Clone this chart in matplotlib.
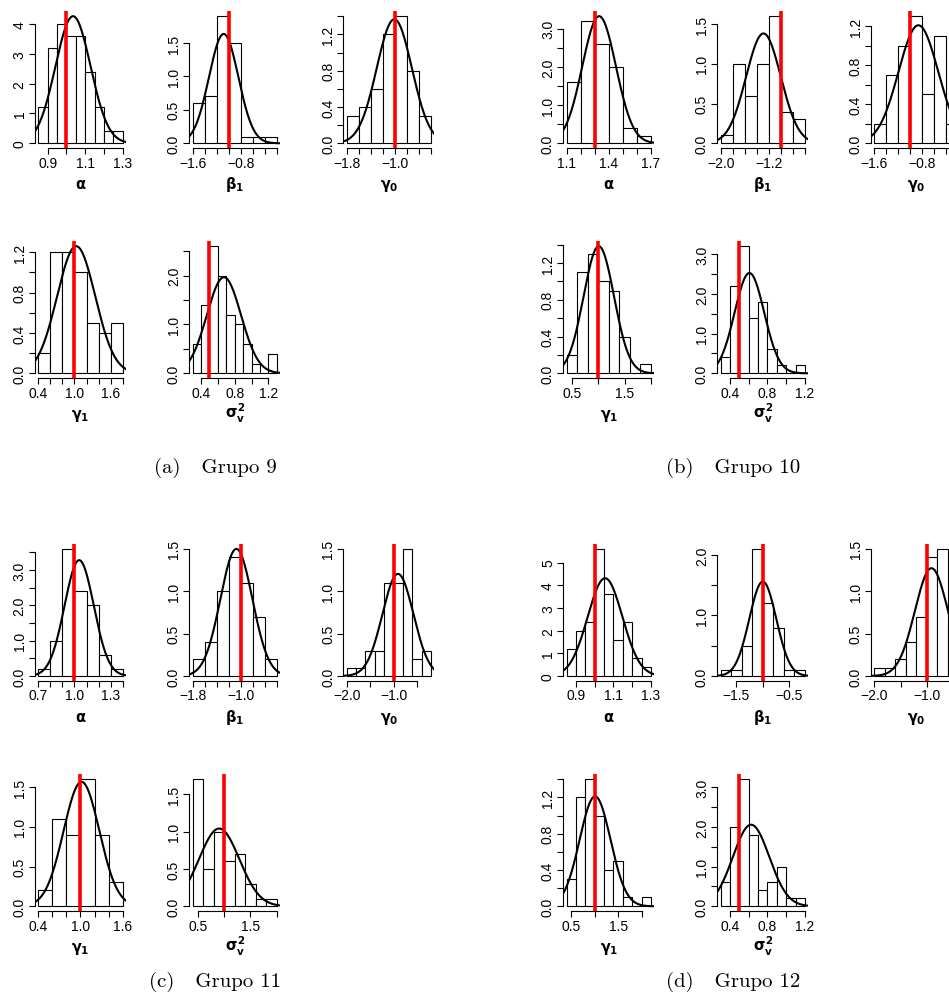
import numpy as np
import matplotlib
matplotlib.use('Agg')
import matplotlib.pyplot as plt

plt.rcParams['font.family'] = ['Liberation Sans', 'DejaVu Sans']
plt.rcParams['mathtext.fontset'] = 'custom'
plt.rcParams['mathtext.rm'] = 'DejaVu Sans:bold'
plt.rcParams['mathtext.it'] = 'DejaVu Sans:bold'
plt.rcParams['mathtext.bf'] = 'DejaVu Sans:bold'

M = '\u2212'

# ---------------- shared tick sets ----------------
yt_int4 = [0, 1, 2, 3, 4]
yl_int4 = ['0', '1', '2', '3', '4']
yt_int5 = [0, 1, 2, 3, 4, 5]
yl_int5 = ['0', '1', '2', '3', '4', '5']
yt_h15 = [0.0, 0.5, 1.0, 1.5]
yl_h15 = ['0.0', '0.5', '1.0', '1.5']
yt_h20 = [0.0, 0.5, 1.0, 1.5, 2.0]
yl_h20 = ['0.0', '', '1.0', '', '2.0']
yt_h25 = [0.0, 0.5, 1.0, 1.5, 2.0, 2.5]
yl_h25 = ['0.0', '', '1.0', '', '2.0', '']
yt_h30 = [0.0, 0.5, 1.0, 1.5, 2.0, 2.5, 3.0]
yl_h30 = ['0.0', '', '1.0', '', '2.0', '', '3.0']
yt_h35 = [0.0, 0.5, 1.0, 1.5, 2.0, 2.5, 3.0, 3.5]
yl_h35 = ['0.0', '', '1.0', '', '2.0', '', '3.0', '']
yt_f12 = [0.0, 0.2, 0.4, 0.6, 0.8, 1.0, 1.2]
yl_f12 = ['0.0', '', '0.4', '', '0.8', '', '1.2']
yt_f14 = [0.0, 0.2, 0.4, 0.6, 0.8, 1.0, 1.2, 1.4]
yl_f14 = ['0.0', '', '0.4', '', '0.8', '', '1.2', '']

xt_a09 = [0.9, 1.0, 1.1, 1.2, 1.3]
xl_a09 = ['0.9', '', '1.1', '', '1.3']
xt_s04 = [0.4, 0.6, 0.8, 1.0, 1.2]
xl_s04 = ['0.4', '', '0.8', '', '1.2']
xt_h05 = [0.5, 1.0, 1.5, 2.0]
xl_h05 = ['0.5', '', '1.5', '']
xt_n20h = [-2.0, -1.5, -1.0, -0.5]
xl_n20h = [M + '2.0', '', M + '1.0', '']

# ---------------- Grupo 9 ----------------
g9_alpha_edges = [0.85, 0.90, 0.95, 1.00, 1.05, 1.10, 1.15, 1.20, 1.25, 1.30]
g9_alpha_dens = [1.2, 3.2, 4.0, 3.6, 3.6, 2.4, 1.2, 0.4, 0.4]
g9_beta1_edges = [-1.6, -1.4, -1.2, -1.0, -0.8, -0.6, -0.4, -0.2]
g9_beta1_dens = [0.6, 0.7, 1.9, 1.5, 0.1, 0.1, 0.1]
g9_beta1_xt = [-1.6, -1.4, -1.2, -1.0, -0.8, -0.6, -0.4, -0.2]
g9_beta1_xl = [M + '1.6', '', '', '', M + '0.8', '', '', '']
g9_gamma0_edges = [-1.8, -1.6, -1.4, -1.2, -1.0, -0.8, -0.6, -0.4]
g9_gamma0_dens = [0.3, 0.4, 0.6, 1.2, 1.4, 0.8, 0.3]
g9_gamma0_xt = [-1.8, -1.6, -1.4, -1.2, -1.0, -0.8, -0.6, -0.4]
g9_gamma0_xl = [M + '1.8', '', '', '', M + '1.0', '', '', '']
g9_gamma1_edges = [0.4, 0.6, 0.8, 1.0, 1.2, 1.4, 1.6, 1.8]
g9_gamma1_dens = [0.2, 1.2, 1.2, 1.0, 0.5, 0.4, 0.5]
g9_gamma1_xt = [0.4, 0.6, 0.8, 1.0, 1.2, 1.4, 1.6, 1.8]
g9_gamma1_xl = ['0.4', '', '', '1.0', '', '', '1.6', '']
g9_sigma_edges = [0.3, 0.4, 0.5, 0.6, 0.7, 0.8, 0.9, 1.0, 1.1, 1.2, 1.3]
g9_sigma_dens = [0.6, 1.4, 2.6, 2.0, 1.2, 1.0, 0.6, 0.2, 0.0, 0.4]
g9_mean = [1.035, -1.083, -1.01, 1.028, 0.672]
g9_sd = [0.0937, 0.244, 0.292, 0.317, 0.203]
g9_true = [1.0, -1.0, -1.0, 1.0, 0.5]

# ---------------- Grupo 10 ----------------
g10_alpha_edges = [1.1, 1.2, 1.3, 1.4, 1.5, 1.6, 1.7]
g10_alpha_dens = [1.6, 3.2, 2.6, 2.0, 0.4, 0.2]
g10_alpha_xt = [1.1, 1.2, 1.3, 1.4, 1.5, 1.6, 1.7]
g10_alpha_xl = ['1.1', '', '', '1.4', '', '', '1.7']
g10_beta1_edges = [-2.0, -1.8, -1.6, -1.4, -1.2, -1.0, -0.8, -0.6]
g10_beta1_dens = [0.1, 1.0, 0.6, 1.0, 1.6, 0.4, 0.3]
g10_beta1_xt = [-2.0, -1.8, -1.6, -1.4, -1.2, -1.0, -0.8, -0.6]
g10_beta1_xl = [M + '2.0', '', '', '', M + '1.2', '', '', '']
g10_gamma0_edges = [-1.6, -1.4, -1.2, -1.0, -0.8, -0.6, -0.4, -0.2]
g10_gamma0_dens = [0.2, 0.7, 1.0, 1.3, 0.5, 1.1, 0.2]
g10_gamma0_xt = [-1.6, -1.4, -1.2, -1.0, -0.8, -0.6, -0.4, -0.2]
g10_gamma0_xl = [M + '1.6', '', '', '', M + '0.8', '', '', '']
g10_gamma1_edges = [0.4, 0.6, 0.8, 1.0, 1.2, 1.4, 1.6, 1.8, 2.0]
g10_gamma1_dens = [0.2, 1.1, 1.3, 1.0, 0.9, 0.4, 0.0, 0.1]
g10_sigma_edges = [0.3, 0.4, 0.5, 0.6, 0.7, 0.8, 0.9, 1.0, 1.1, 1.2]
g10_sigma_dens = [0.4, 2.2, 3.2, 1.4, 1.8, 0.6, 0.2, 0.0, 0.2]
g10_mean = [1.331, -1.289, -0.867, 1.01, 0.607]
g10_sd = [0.1198, 0.2885, 0.3305, 0.2887, 0.158]
g10_true = [1.3, -1.0, -1.0, 1.0, 0.5]

# ---------------- Grupo 11 ----------------
g11_alpha_edges = [0.7, 0.8, 0.9, 1.0, 1.1, 1.2, 1.3, 1.4]
g11_alpha_dens = [0.2, 1.0, 3.6, 2.4, 2.0, 0.6, 0.2]
g11_alpha_xt = [0.7, 0.8, 0.9, 1.0, 1.1, 1.2, 1.3, 1.4]
g11_alpha_xl = ['0.7', '', '', '1.0', '', '', '1.3', '']
g11_beta1_edges = [-1.8, -1.6, -1.4, -1.2, -1.0, -0.8, -0.6, -0.4]
g11_beta1_dens = [0.2, 0.4, 1.0, 1.4, 1.1, 0.7, 0.2]
g11_gamma0_edges = [-2.0, -1.8, -1.6, -1.4, -1.2, -1.0, -0.8, -0.6, -0.4, -0.2]
g11_gamma0_dens = [0.1, 0.1, 0.3, 0.3, 1.1, 1.1, 1.5, 0.2, 0.3]
g11_gamma1_edges = [0.4, 0.6, 0.8, 1.0, 1.2, 1.4, 1.6]
g11_gamma1_dens = [0.2, 1.1, 0.9, 1.6, 0.9, 0.3]
g11_gamma1_xt = [0.4, 0.6, 0.8, 1.0, 1.2, 1.4, 1.6]
g11_gamma1_xl = ['0.4', '', '', '1.0', '', '', '1.6']
g11_sigma_edges = [0.4, 0.6, 0.8, 1.0, 1.2, 1.4, 1.6, 1.8, 2.0]
g11_sigma_dens = [1.7, 0.5, 1.0, 0.6, 0.7, 0.3, 0.1, 0.1]
g11_mean = [1.039, -1.072, -0.907, 1.014, 0.905]
g11_sd = [0.1216, 0.266, 0.331, 0.2546, 0.3836]
g11_true = [1.0, -1.0, -1.0, 1.0, 1.0]

# ---------------- Grupo 12 ----------------
g12_alpha_edges = [0.85, 0.90, 0.95, 1.00, 1.05, 1.10, 1.15, 1.20, 1.25, 1.30]
g12_alpha_dens = [1.2, 2.0, 2.4, 5.6, 3.6, 1.6, 2.4, 0.8, 0.4]
g12_beta1_edges = [-1.8, -1.6, -1.4, -1.2, -1.0, -0.8, -0.6, -0.4, -0.2]
g12_beta1_dens = [0.1, 0.1, 0.5, 2.1, 1.2, 0.8, 0.1, 0.1]
g12_beta1_xt = [-1.5, -1.0, -0.5]
g12_beta1_xl = [M + '1.5', '', M + '0.5']
g12_gamma0_edges = [-2.0, -1.8, -1.6, -1.4, -1.2, -1.0, -0.8, -0.6, -0.4]
g12_gamma0_dens = [0.1, 0.1, 0.2, 0.4, 0.7, 1.4, 1.5, 0.6]
g12_gamma1_edges = [0.4, 0.6, 0.8, 1.0, 1.2, 1.4, 1.6, 1.8, 2.0, 2.2]
g12_gamma1_dens = [0.3, 1.2, 1.4, 1.0, 0.4, 0.5, 0.1, 0.0, 0.1]
g12_sigma_edges = [0.3, 0.4, 0.5, 0.6, 0.7, 0.8, 0.9, 1.0, 1.1, 1.2]
g12_sigma_dens = [0.6, 2.0, 3.2, 1.8, 0.4, 0.6, 1.0, 0.2, 0.2]
g12_mean = [1.055, -1.0, -0.914, 1.007, 0.625]
g12_sd = [0.0926, 0.2557, 0.3136, 0.3294, 0.1942]
g12_true = [1.0, -1.0, -1.0, 1.0, 0.5]

param_labels = [r'$\alpha$', r'$\beta_1$', r'$\gamma_0$', r'$\gamma_1$', r'$\sigma_v^2$']
captions = ['(a)   Grupo 9', '(b)   Grupo 10', '(c)   Grupo 11', '(d)   Grupo 12']

groups = [
    dict(panels=[
        (g9_alpha_edges, g9_alpha_dens, xt_a09, xl_a09, yt_int4, yl_int4),
        (g9_beta1_edges, g9_beta1_dens, g9_beta1_xt, g9_beta1_xl, yt_h15, yl_h15),
        (g9_gamma0_edges, g9_gamma0_dens, g9_gamma0_xt, g9_gamma0_xl, yt_f14, yl_f14),
        (g9_gamma1_edges, g9_gamma1_dens, g9_gamma1_xt, g9_gamma1_xl, yt_f12, yl_f12),
        (g9_sigma_edges, g9_sigma_dens, xt_s04, xl_s04, yt_h25, yl_h25)],
        mean=g9_mean, sd=g9_sd, true=g9_true, col=0, row=0),
    dict(panels=[
        (g10_alpha_edges, g10_alpha_dens, g10_alpha_xt, g10_alpha_xl, yt_h30, yl_h30),
        (g10_beta1_edges, g10_beta1_dens, g10_beta1_xt, g10_beta1_xl, yt_h15, yl_h15),
        (g10_gamma0_edges, g10_gamma0_dens, g10_gamma0_xt, g10_gamma0_xl, yt_f12, yl_f12),
        (g10_gamma1_edges, g10_gamma1_dens, xt_h05, xl_h05, yt_f14, yl_f14),
        (g10_sigma_edges, g10_sigma_dens, xt_s04, xl_s04, yt_h30, yl_h30)],
        mean=g10_mean, sd=g10_sd, true=g10_true, col=1, row=0),
    dict(panels=[
        (g11_alpha_edges, g11_alpha_dens, g11_alpha_xt, g11_alpha_xl, yt_h35, yl_h35),
        (g11_beta1_edges, g11_beta1_dens, g9_gamma0_xt, g9_gamma0_xl, yt_h15, yl_h15),
        (g11_gamma0_edges, g11_gamma0_dens, xt_n20h, xl_n20h, yt_h15, yl_h15),
        (g11_gamma1_edges, g11_gamma1_dens, g11_gamma1_xt, g11_gamma1_xl, yt_h15, yl_h15),
        (g11_sigma_edges, g11_sigma_dens, xt_h05, xl_h05, yt_h15, yl_h15)],
        mean=g11_mean, sd=g11_sd, true=g11_true, col=0, row=1),
    dict(panels=[
        (g12_alpha_edges, g12_alpha_dens, xt_a09, xl_a09, yt_int5, yl_int5),
        (g12_beta1_edges, g12_beta1_dens, g12_beta1_xt, g12_beta1_xl, yt_h20, yl_h20),
        (g12_gamma0_edges, g12_gamma0_dens, xt_n20h, xl_n20h, yt_h15, yl_h15),
        (g12_gamma1_edges, g12_gamma1_dens, xt_h05, xl_h05, yt_f14, yl_f14),
        (g12_sigma_edges, g12_sigma_dens, xt_s04, xl_s04, yt_h30, yl_h30)],
        mean=g12_mean, sd=g12_sd, true=g12_true, col=1, row=1),
]

# ---------------- layout (pixels) ----------------
FW, FH = 949, 1004
fig = plt.figure(figsize=(FW / 100, FH / 100), dpi=100)
col_lefts = [[35.0, 189.2, 343.4], [563.3, 717.3, 870.9]]
row_bottoms = [[149.4, 379.4], [682.1, 912.4]]
caption_pos = [(215, 468), (733, 468), (215, 982), (733, 982)]
PW, PH = 91.0, 137.3
slots = [(0, 0), (0, 1), (0, 2), (1, 0), (1, 1)]

for gi, g in enumerate(groups):
    for pi, (edges, dens, xt, xl, yt, yl) in enumerate(g['panels']):
        r, c = slots[pi]
        left = col_lefts[g['col']][c]
        bottom = row_bottoms[g['row']][r]
        ax = fig.add_axes([left / FW, 1 - bottom / FH, PW / FW, PH / FH])
        edges = np.array(edges)
        dens = np.array(dens)
        mu, sd, tv = g['mean'][pi], g['sd'][pi], g['true'][pi]
        peak = 1.0 / (sd * np.sqrt(2 * np.pi))
        top = max(dens.max(), peak)
        x0, x1 = edges[0], edges[-1]
        rx = x1 - x0
        ax.set_xlim(x0 - 0.04 * rx, x1 + 0.04 * rx)
        ax.set_ylim(-0.04 * top, 1.04 * top)
        ax.bar(edges[:-1], dens, width=np.diff(edges), align='edge',
               facecolor='white', edgecolor='black', linewidth=0.8, zorder=2)
        xs = np.linspace(x0 - 0.04 * rx, x1 + 0.04 * rx, 300)
        ax.plot(xs, np.exp(-0.5 * ((xs - mu) / sd) ** 2) * peak,
                color='black', lw=1.5, zorder=3)
        ax.axvline(tv, color='#ff0000', lw=2.6, zorder=4)
        for s in ('top', 'right'):
            ax.spines[s].set_visible(False)
        ax.spines['left'].set_bounds(yt[0], yt[-1])
        ax.spines['bottom'].set_bounds(xt[0], xt[-1])
        for s in ('left', 'bottom'):
            ax.spines[s].set_linewidth(0.8)
        ax.set_xticks(xt)
        ax.set_xticklabels(xl)
        ax.set_yticks(yt)
        ax.set_yticklabels(yl, rotation=90, va='center')
        ax.tick_params(axis='both', direction='out', length=4, width=0.8,
                       labelsize=10)
        ax.tick_params(axis='x', pad=1.2)
        ax.tick_params(axis='y', pad=2.0)
        ax.patch.set_visible(False)
        fig.text((left + PW / 2) / FW, 1 - (bottom + 39.5) / FH,
                 param_labels[pi], ha='center', va='baseline', fontsize=10.5)
    cx, cy = caption_pos[gi]
    fig.text(cx / FW, 1 - cy / FH, captions[gi], family='cmr10',
             fontsize=15, ha='center', va='center')

fig.savefig('out.png', dpi=100)
